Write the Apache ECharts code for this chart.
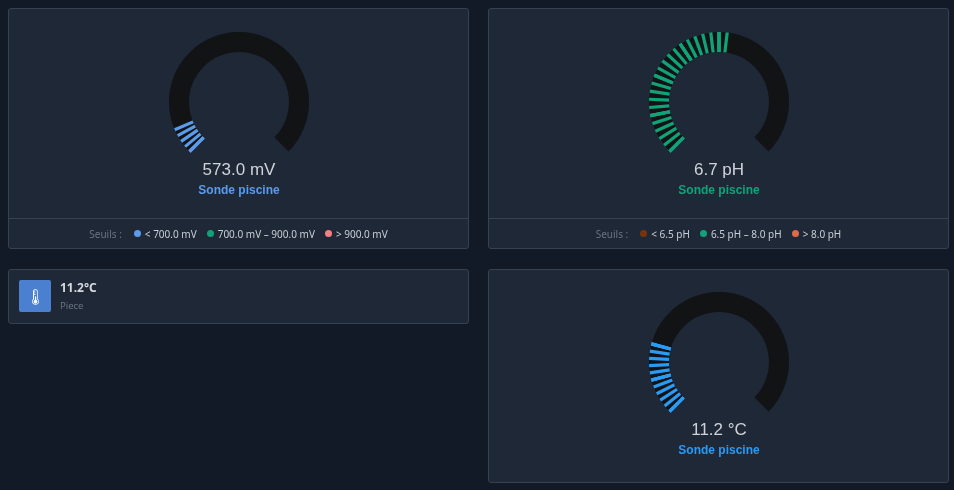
<!DOCTYPE html><html><head><meta charset="utf-8">
<script src="https://cdn.jsdelivr.net/npm/echarts@6/dist/echarts.min.js"></script>
<style>
body{margin:0;background:#121927;font-family:"Noto Sans",sans-serif;width:954px;height:490px;overflow:hidden;position:relative}
.p{position:absolute;background:#1f2836;border:1px solid #364152;border-radius:3px;box-sizing:border-box}
.c{position:absolute;left:0;top:0}
.f{position:absolute;left:0;right:0;bottom:0;height:29px;border-top:1px solid #364152;font-size:10px;color:#c9ced6;display:flex;justify-content:center;align-items:center;gap:4px}
.f .s{color:#6b7380;margin-right:2px}.d{display:inline-block;width:7px;height:7px;border-radius:50%;margin-left:6px}
</style></head><body>
<div class="p" style="left:8px;top:8px;width:461px;height:241px"><div id="g1" class="c" style="width:459px;height:210px"></div>
<div class="f"><span class="s">Seuils :</span><span class="d" style="background:#5b9bea"></span>&lt; 700.0 mV<span class="d" style="background:#10a37a"></span>700.0 mV – 900.0 mV<span class="d" style="background:#f87f7f"></span>&gt; 900.0 mV</div></div>
<div class="p" style="left:488px;top:8px;width:461px;height:241px"><div id="g2" class="c" style="width:459px;height:210px"></div>
<div class="f"><span class="s">Seuils :</span><span class="d" style="background:#7a3208"></span>&lt; 6.5 pH<span class="d" style="background:#10a37a"></span>6.5 pH – 8.0 pH<span class="d" style="background:#e0694a"></span>&gt; 8.0 pH</div></div>
<div class="p" style="left:8px;top:269px;width:461px;height:55px">
<div style="position:absolute;left:10px;top:10px;width:32px;height:32px;background:#4a80cf;border-radius:2px;color:#fff;font-size:15px;text-align:center;line-height:32px">🌡</div>
<div style="position:absolute;left:51px;top:9px;font-size:12px;font-weight:bold;color:#d6dae0">11.2°C</div>
<div style="position:absolute;left:51px;top:29px;font-size:9.5px;color:#6b7380">Piece</div></div>
<div class="p" style="left:488px;top:269px;width:461px;height:214px"><div id="g3" class="c" style="width:459px;height:212px"></div></div>
<script>
const values=[573.0,6.7,11.2];
const units=['mV','pH','°C'];
const mins=[500,4,0];
const maxs=[1300,9,50];
const colors=['#5b9bea','#10a37a','#2b9af3'];
const titles=['Sonde piscine','Sonde piscine','Sonde piscine'];
const ticks=[10,8,9];
const centers=[[230,93],[230,93],[230,92]];
const fmt=[v=>v.toFixed(1)+' mV',v=>v.toFixed(1)+' pH',v=>v.toFixed(1)+' °C'];
['g1','g2','g3'].forEach((id,i)=>{
 const ch=echarts.init(document.getElementById(id));
 const frac=(values[i]-mins[i])/(maxs[i]-mins[i]);
 const base={type:'gauge',startAngle:225,endAngle:-45,min:mins[i],max:maxs[i],center:centers[i],radius:70,pointer:{show:false},axisLabel:{show:false},splitNumber:ticks[i]};
 ch.setOption({series:[
  Object.assign({},base,{axisLine:{lineStyle:{width:20,color:[[1,'#111315']]}},axisTick:{show:false},splitLine:{show:false},
   data:[{value:values[i],name:titles[i]}],
   title:{offsetCenter:[0,89],color:colors[i],fontSize:12,fontWeight:'bold'},
   detail:{offsetCenter:[0,68],color:'#cfd3d9',fontSize:17,fontWeight:'normal',formatter:fmt[i]}}),
  Object.assign({},base,{axisLine:{lineStyle:{width:0,color:[[frac,colors[i]],[1,'rgba(0,0,0,0)']]}},
   axisTick:{show:true,splitNumber:5,distance:0,length:20,lineStyle:{color:'auto',width:3.2}},
   splitLine:{show:true,distance:0,length:20,lineStyle:{color:'auto',width:3.2}},
   data:[{value:values[i]}],title:{show:false},detail:{show:false}})
 ]});
});
</script></body></html>
